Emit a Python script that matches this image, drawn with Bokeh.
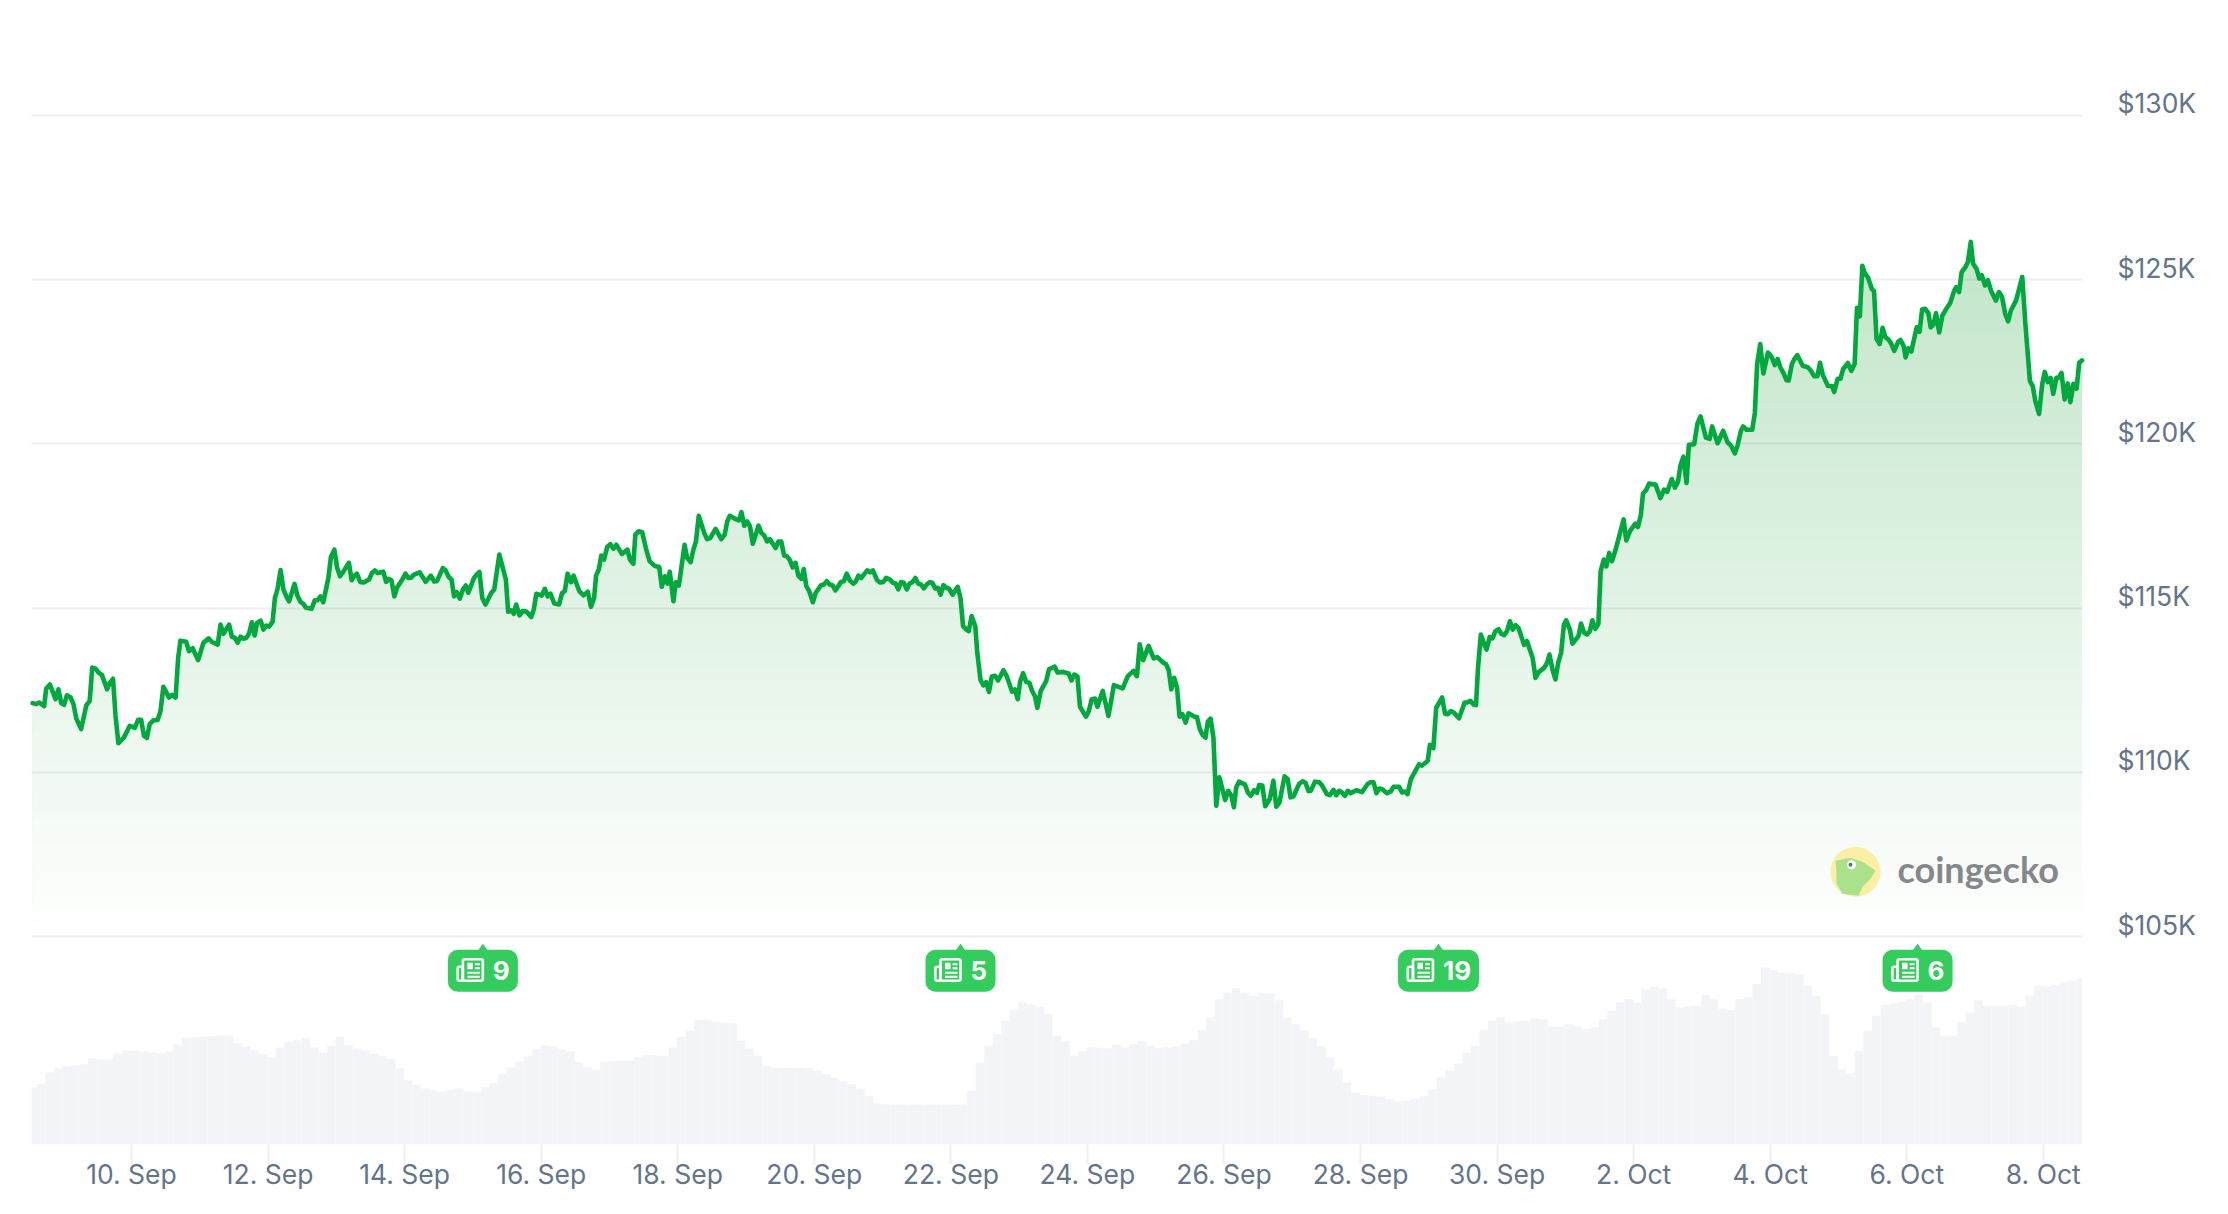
import numpy as np
from bokeh.core.properties import value
from bokeh.embed import file_html
from bokeh.models import FixedTicker, Grid, LinearAxis, Range1d
from bokeh.plotting import figure
from bokeh.resources import INLINE

# ---------- data ----------
hours = [
-34.75,-33.5,-32.5,-30.7,-30,-28.7,-26.7,-25.7,-24.7,-23.7,-22.7,-21.4,-20.4,-19.4,-17.7,-15.9,-14.7,-13.8,-12.6,-11.6,
-10.4,-8.6,-7.6,-6.5,-5.6,-4.6,-2.7,-0.6,1.2,2.3,3.4,4.4,5.4,6.4,7.7,9.2,10.2,11.2,12.3,13.2,
14.2,15.5,16.4,17.2,19.2,20.2,21.5,23.4,25.3,27.1,28.3,30.3,31.3,32.3,34.3,35.3,36.3,37.3,38.3,39.3,
40.3,41.3,42.3,43.3,44.1,45.4,46.4,47.4,48.4,49.6,50.4,51.3,52.4,53.4,54.4,55.4,57.3,58.4,59.4,60.4,
61.4,63.3,64.4,65.4,66.4,67.4,69.2,70.1,71.3,72.3,73.3,74.5,76.4,77.4,78.2,79.2,80.4,81.6,83.5,84.5,
85.5,86.5,88.5,89.5,90.5,91.4,92.4,93.3,95.2,96.3,97.3,98.3,99.3,101.3,103.4,105.2,106.4,107.4,109.4,110.4,
111.5,112.5,113.4,114.3,115.4,116.5,117.5,118.4,120.4,121.3,122.3,123.3,124.4,126.5,127.5,129.3,131.6,132.4,133.5,134.4,
135.2,136.4,137.5,138.8,140.5,141.4,142.3,144.2,145.3,146.3,147.3,
148.6,150.3,151.3,152.3,153.3,154.5,155.4,157.4,158.9,160.4,161.5,162.6,163.3,164.3,165.1,166.1,167.2,168.3,169.4,170.4,
172.4,174.3,175.2,176.4,177.1,178.3,179.5,180.8,182.1,184,185.5,186.4,187.5,188.4,189.2,190.5,191.3,192.4,194.4,195.3,
196.5,197.5,198.4,199.4,201.3,202.3,203.4,205.3,207.3,208.5,209.4,210.3,212.4,213.5,214.4,215.4,216.4,217.4,218.4,220.4,
221.4,222.4,223.4,224.4,226.4,227.4,228.4,229.4,230.4,231.4,232.4,233.4,234.4,235.5,236.3,237.2,238.2,239.5,240.5,242.4,
243.4,244.4,245.4,246.4,247.4,249.4,250.4,251.4,252.5,253.7,254.5,255.5,256.5,258.6,259.6,260.6,262.1,263.1,264.3,265.3,
266.6,267.6,268.6,269.5,270.5,271.5,272.5,273.5,274.5,275.5,276.5,277.5,278.5,279.5,280.5,281.5,282.5,283.5,284.4,285.4,
286.4,287.4,288.6,290.4,291.4,292.3,293.5,294.3,295.3,296.6,297.3,298.4,299.4,300.4,301.4,302.4,303.6,304.6,306.5,307.6,
309.5,310.5,311.5,312.4,313.4,314.5,315.6,316.6,317.6,318.4,319.6,321.5,322.5,324.5,325.5,327.5,329.4,330.4,331.4,332.5,
333.4,335.5,336.5,337.5,338.7,
339.5,341.4,343.4,345.3,348.4,350.2,352.2,353.4,354.4,355.6,357.5,359.3,360.6,362.7,363.7,364.6,365.5,366.5,367.5,368.4,
369.4,370.5,371.5,373.5,374.5,375.5,376.5,377.5,378.3,379.3,380.3,381.3,382.4,383.6,384.4,385.5,386.6,387.5,388.3,389.3,
391.4,392.4,393.4,394.6,395.6,396.4,397.5,398.5,400.1,401.4,402.4,403.5,405.3,406.4,407.4,408.4,410.4,411.7,412.7,413.7,
414.5,416,417.5,418.5,420.2,421.2,422.5,423.5,424.5,425.5,426.5,427.5,428.5,430.5,432.5,434.5,435.5,436.6,437.6,438.6,
439.6,441.3,442.6,443.6,445.6,446.6,447.6,448.5,449.7,451,452.6,453.6,455.6,456.4,457.6,458.6,460.7,461.7,462.7,463.7,
464.7,466.6,468.6,469.4,470.6,471.7,472.6,473.3,474.3,475.5,476.3,477.4,478.4,479.4,480.5,481.5,482.5,483.5,484.5,485.5,
486.5,487.5,488.5,489.5,490.5,491.5,492.5,493.5,494.5,496.6,497.6,498.4,499.6,500.5,501.5,502.5,503.5,504.3,505.6,506.5,
508.6,509.5,510.6,511.6,512.6,513.5,514.5,515.6,516.4,517.5,518.4,519.4,520.4,521.5,
524.5,525.4,526.8,528.6,529.5,530.5,531.3,532.4,533.4,535.7,537.4,538.7,539.8,541.4,542.5,543.6,544.5,545.5,546.6,547.4,
549.3,550.4,551.5,553.4,554.7,555.6,557.5,559.5,561,562.2,563.6,564.6,565.7,566.5,567.7,569.7,570.6,571.4,572.5,573.6,
575.2,576.6,577.6,578.6,579.6,580.6,581.7,582.5,583.6,584.5,585.5,587.5,589.1,590.2,591.5,592.6,593.5,594.5,596.3,597.7,
598.5,599.7,600.7,601.6,603.3,604.5,605.7,606.5,607.5,608.4,609.3,610.4,611.7,612.5,613.4,614.5,615.5,616.4,617.7,618.5,
619.6,621,621.8,622.9,623.6,624.5,625.6,626.7,627.5,628.5,629.4,630.5,631.6,632.4,633.4,634.3,635.4,636.5,637.9,639.3,
640.6,641.4,642.4,643.3,644.7,645.5,646.5,647.3,648.5,649.5,650.4,651.5,652.5,653.6,655.3,656.4,657.5,658.6,659.6,660.6,
662.4,663.2,664.6,665.7,667.3,668.3,669.2,670.5,671.6,672.5,673.6,674.6,675.5,676.6,677.4,678.4,679.5,680.6,681.5,682.6,
683.7,684.6,685.6,
]
prices_k = [
112.11,112.08,112.13,112.02,112.55,112.68,112.23,112.53,112.11,112.06,112.35,112.28,112.08,111.64,111.32,112.04,112.18,113.19,113.16,113.04,
112.97,112.53,112.73,112.85,111.72,110.89,111.06,111.42,111.36,111.6,111.6,111.11,111.05,111.47,111.59,111.6,111.87,112.61,112.43,112.28,
112.36,112.28,113.49,114.01,113.98,113.69,113.78,113.42,113.95,114.08,113.97,113.89,114.5,114.22,114.5,114.13,114.1,113.95,114.13,114.07,
114.09,114.22,114.57,114.17,114.55,114.62,114.35,114.47,114.44,114.59,115.31,115.57,116.16,115.57,115.36,115.21,115.74,115.36,115.19,115.13,
115.01,114.98,115.24,115.24,115.36,115.18,115.92,116.56,116.78,116.22,115.97,116.12,116.38,115.85,115.97,116.05,115.8,115.78,115.87,116.07,
116.15,116.07,116.11,115.8,115.89,115.84,115.36,115.62,115.87,116.05,115.92,115.93,116.02,116.09,115.8,115.99,115.81,115.83,116.22,116.15,
115.95,115.87,115.36,115.49,115.29,115.57,115.69,115.47,115.92,116.02,116.1,115.31,115.11,115.47,115.57,116.63,115.87,114.89,114.93,114.83,
115.11,114.78,114.91,114.9,114.73,114.96,115.44,115.38,115.59,115.36,115.44,
115.14,115.11,115.45,115.52,116.05,115.79,115.99,115.52,115.39,115.5,115.04,115.31,115.99,116.19,116.6,116.48,116.86,116.95,116.81,116.93,
116.65,116.78,116.48,116.35,117.24,117.34,117.31,116.83,116.43,116.28,116.25,115.65,115.97,115.75,116.11,115.21,115.79,115.69,116.93,116.53,
116.4,116.78,117.03,117.81,117.29,117.1,117.13,117.41,117.1,117.24,117.64,117.81,117.71,117.67,117.92,117.51,117.64,117.49,116.96,117.51,
117.29,117.21,117.03,117.1,116.83,117.03,117.03,116.6,116.58,116.46,116.24,116.38,115.99,115.89,116.19,115.67,115.52,115.18,115.47,115.7,
115.72,115.82,115.72,115.7,115.54,115.8,115.82,116.05,115.84,115.75,115.8,115.99,115.92,116.15,116.09,116.15,115.85,115.78,115.8,115.92,
115.87,115.77,115.75,115.57,115.79,115.77,115.57,115.75,115.79,115.92,115.75,115.72,115.6,115.72,115.79,115.77,115.6,115.62,115.41,115.7,
115.62,115.59,115.41,115.65,115.31,114.45,114.35,114.3,114.76,114.45,113.64,112.83,112.65,112.75,112.45,112.92,112.94,112.8,113.11,112.94,
112.46,112.53,112.23,112.78,113.02,112.75,112.73,112.48,112.31,111.97,112.48,112.78,113.14,113.22,113.04,113.06,113.01,112.8,112.98,112.92,
112.0,111.7,111.87,112.23,112.25,
112.0,112.48,111.72,112.66,112.56,112.93,113.09,112.93,113.9,113.42,113.85,113.47,113.51,113.34,113.29,113.11,112.53,112.88,112.58,111.7,
111.77,111.52,111.8,111.7,111.69,111.32,111.14,111.06,111.54,111.64,111.06,108.99,109.85,109.44,109.16,109.44,109.29,108.94,109.54,109.72,
109.63,109.39,109.29,109.46,109.38,109.62,109.6,108.97,109.19,109.75,108.96,109.09,109.88,109.8,109.24,109.27,109.65,109.73,109.68,109.44,
109.44,109.72,109.7,109.6,109.34,109.31,109.47,109.31,109.44,109.39,109.29,109.44,109.37,109.46,109.4,109.65,109.7,109.7,109.37,109.51,
109.49,109.37,109.42,109.56,109.56,109.39,109.42,109.34,109.8,110.0,110.25,110.21,110.35,110.84,110.74,111.97,112.28,111.79,111.77,111.87,
111.83,111.65,112.13,112.13,112.18,112.07,112.05,113.19,114.2,113.9,113.74,114.12,114.08,114.3,114.36,114.22,114.18,114.3,114.6,114.35,
114.48,114.4,114.15,113.88,114.0,113.74,113.49,112.88,113.04,113.19,113.34,113.59,113.09,112.83,113.34,113.64,114.5,114.63,114.35,113.92,
114.15,114.53,114.25,114.2,114.3,114.63,114.37,114.52,116.12,116.48,116.27,116.68,116.43,116.73,
117.7,117.06,117.36,117.57,117.47,117.82,118.49,118.59,118.79,118.76,118.35,118.61,118.54,118.93,118.67,118.85,119.36,119.61,118.81,119.97,
119.99,120.61,120.84,120.19,120.15,120.53,120.02,120.4,120.05,119.95,119.71,119.97,120.4,120.53,120.43,120.43,120.94,122.42,123.04,122.14,
122.78,122.63,122.4,122.58,122.32,122.17,121.94,121.93,122.42,122.58,122.7,122.37,122.34,122.24,122.06,122.06,122.47,122.1,121.76,121.76,
121.58,121.98,121.98,122.27,122.46,122.22,122.44,124.14,123.88,125.42,125.18,125.06,124.72,124.65,123.19,123.04,123.53,123.26,123.16,123.06,
122.83,123.11,123.16,122.98,122.63,122.91,122.81,123.24,123.55,123.41,124.09,124.11,123.98,123.55,123.63,123.98,123.39,123.9,124.11,124.29,
124.65,124.77,124.62,125.23,125.39,125.54,126.15,125.49,125.33,125.03,125.13,124.82,124.98,124.67,124.36,124.62,124.47,123.96,123.73,124.06,
124.36,124.62,125.08,123.65,121.91,121.76,121.3,120.91,121.81,122.19,121.88,122.01,121.52,122.01,122.01,122.16,121.35,121.84,121.27,121.83,
121.68,122.47,122.54,
]
volume_first_hour = -34.75
volume_step_hours = 3
volumes = [
171,181,216,229,234,238,241,259,255,256,273,283,281,279,276,274,279,301,320,321,324,325,327,328,304,294,283,271,263,291,
308,313,319,291,276,296,323,298,289,283,272,265,257,228,193,179,168,163,159,164,169,160,158,171,183,211,231,249,265,286,
298,295,285,279,246,231,223,248,250,251,253,261,268,267,266,291,323,341,373,374,368,366,363,311,288,266,236,230,230,230,
230,229,221,210,200,190,181,168,146,123,120,120,120,120,120,120,120,120,119,121,161,246,296,331,371,404,427,421,413,391,
326,311,266,279,291,290,289,
299,291,301,309,296,289,292,295,303,313,343,381,436,456,469,456,446,454,453,433,381,361,341,318,294,261,226,186,156,148,
146,144,136,129,131,138,146,166,201,221,243,276,296,343,371,381,366,370,373,378,376,354,353,361,354,347,351,376,401,426,
436,426,466,473,469,436,412,414,416,449,436,407,403,436,441,481,531,523,515,513,510,476,446,391,266,226,213,281,341,386,
419,423,428,436,451,426,351,326,326,366,396,433,416,415,416,420,413,446,476,474,479,486,491,498,
]
x_ticks = [0,48,96,144,192,240,288,336,384,432,480,528,576,624,672]
x_labels = ["10. Sep","12. Sep","14. Sep","16. Sep","18. Sep","20. Sep","22. Sep","24. Sep",
            "26. Sep","28. Sep","30. Sep","2. Oct","4. Oct","6. Oct","8. Oct"]
y_ticks = [105,110,115,120,125,130]
y_labels = ["$105K","$110K","$115K","$120K","$125K","$130K"]
news_hours = [123.5,291.4,459.4,627.8]
news_counts = ["9","5","19","6"]

# ---------- styles and layout ----------
LINE = "#00a83e"
BADGE = "#34cc5c"
TEXT = "#64748b"
VOL = "#f3f4f8"
FONT = "Inter"
PX_H = 0.3515      # hours per pixel
PX_K = 1 / 32.85   # price thousands per pixel

def hx(page_x):
    return (page_x - 131) * PX_H

def py(page_y):
    return 105 + (936 - page_y) * PX_K

FRAME_L, FRAME_R, FRAME_T, FRAME_B = 31, 2082, 0, 1143.7

p = figure(width=2220, height=1206, output_backend="svg", toolbar_location=None,
           x_range=Range1d(hx(FRAME_L), hx(FRAME_R)), y_range=Range1d(py(FRAME_B), py(FRAME_T)),
           y_axis_location=None, min_border_left=31, min_border_right=138,
           min_border_top=0, min_border_bottom=62, outline_line_color=None,
           background_fill_color="white", border_fill_color="white")
p.xgrid.visible = False
p.ygrid.visible = False

p.extra_y_ranges = {
    "vol": Range1d(0, (FRAME_B - FRAME_T) * 3),
    "lab": Range1d(py(FRAME_B) - 12 * PX_K, py(FRAME_T) - 12 * PX_K),
}

# axes
ax = p.xaxis[0]
ax.ticker = FixedTicker(ticks=x_ticks)
ax.major_label_overrides = dict(zip(x_ticks, x_labels))
ax.axis_line_color = None
ax.minor_tick_line_color = None
ax.major_tick_line_color = "#eef0f4"
ax.major_tick_line_width = 2
ax.major_tick_in = 0
ax.major_tick_out = 20
ax.major_label_standoff = -7
ax.major_label_text_font = FONT
ax.major_label_text_font_size = "26.5px"
ax.major_label_text_color = TEXT

ay = LinearAxis(y_range_name="lab", ticker=FixedTicker(ticks=y_ticks),
                major_label_overrides=dict(zip(y_ticks, y_labels)),
                axis_line_color=None, major_tick_line_color=None, minor_tick_line_color=None,
                major_tick_in=0, major_tick_out=0, major_label_standoff=35,
                major_label_text_font=FONT, major_label_text_font_size="26.5px",
                major_label_text_color=TEXT)
p.add_layout(ay, "right")

# volume columns
vol_x = volume_first_hour + volume_step_hours * np.arange(len(volumes))
p.vbar(x=vol_x, width=volume_step_hours, bottom=0, top=volumes, y_range_name="vol",
       fill_color=VOL, line_color=None)

# gradient fill below the price line: nested opaque layers, darkest first
h = np.array(hours)
pr = np.array(prices_k)
GRAD_TOP = py(245)
levels = np.arange(127.0, 105.0, -0.2)
rgb = np.array([0, 150, 30])
for lv in levels:
    a = 0.24 * (lv - 105) / (GRAD_TOP - 105)
    c = (255 - (255 - rgb) * min(a, 0.3)).round().astype(int)
    p.varea(x=h, y1=np.full(len(h), 105.0), y2=np.minimum(pr, lv),
            fill_color="#%02x%02x%02x" % tuple(c))

# horizontal grid lines above the fill
grid = Grid(dimension=1, ticker=FixedTicker(ticks=y_ticks), grid_line_color="#1e285a",
            grid_line_alpha=0.075, grid_line_width=2, level="guide")
p.add_layout(grid)

# price line
p.line(h, pr, line_color=LINE, line_width=4.6, line_join="round", line_cap="round", level="annotation")

# news badges
B_T, B_B = 949, 991
for hr, cnt in zip(news_hours, news_counts):
    cx = 131 + hr / PX_H
    w = 81 if len(cnt) > 1 else 70
    l = cx - w / 2
    p.quad(left=[hx(l)], right=[hx(l + w)], top=[py(B_T)], bottom=[py(B_B)],
           fill_color=BADGE, line_color=None, border_radius=10)
    p.patch([hx(cx - 5), hx(cx), hx(cx + 5)], [py(B_T + 1), py(943), py(B_T + 1)],
            fill_color=BADGE, line_color=None)
    i = l + 9
    # newspaper icon
    p.quad(left=[hx(i + 6)], right=[hx(i + 26)], top=[py(958.5)], bottom=[py(980)],
           fill_color=None, line_color="white", line_width=2.6, border_radius=2)
    p.quad(left=[hx(i + 0.8)], right=[hx(i + 6)], top=[py(966)], bottom=[py(980)],
           fill_color=None, line_color="white", line_width=2.6, border_radius=2)
    p.quad(left=[hx(i + 10.5), hx(i + 18), hx(i + 18), hx(i + 10.5), hx(i + 10.5)],
           right=[hx(i + 16), hx(i + 23), hx(i + 23), hx(i + 23), hx(i + 23)],
           top=[py(962), py(962.5), py(966.5), py(971), py(975)],
           bottom=[py(968.5), py(964.5), py(968.5), py(973), py(977)],
           fill_color="white", line_color=None)
    p.text([hx(i + 36)], [py(970)], text=[cnt], text_color="white", text_font=value(FONT),
           text_font_size="26px", text_font_style="bold", text_align="left", text_baseline="middle")

# logo
p.scatter([hx(1855)], [py(871)], size=50, fill_color="#fbefa6", line_color=None, marker="circle")
gecko_x = [1835, 1850, 1862, 1875, 1870, 1862, 1858, 1842, 1836, 1836]
gecko_y = [860, 857, 861, 870, 878, 886, 895, 893, 883, 871]
p.patch([hx(v) for v in gecko_x], [py(v) for v in gecko_y], fill_color="#a9e28b", line_color=None)
p.scatter([hx(1851)], [py(864)], size=9, fill_color="white", line_color=None, marker="circle")
p.scatter([hx(1850)], [py(864)], size=4, fill_color="#60727a", line_color=None, marker="circle")
p.text([hx(1897)], [py(868)], text=["coingecko"], text_color="#85888a", text_font=value("Lato"),
       text_font_size="36px", text_font_style="bold", text_align="left", text_baseline="middle")

open("out.html", "w").write(file_html(p, INLINE))
